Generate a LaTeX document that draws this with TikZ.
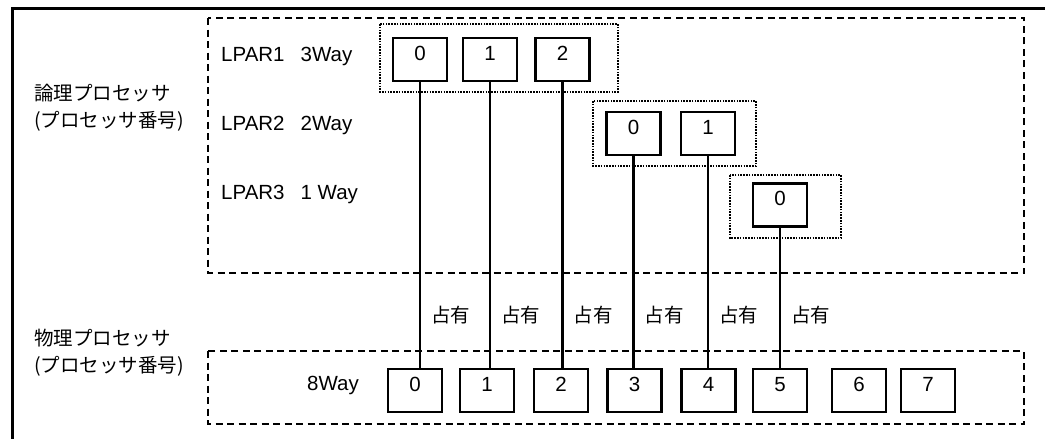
\documentclass[tikz,border=0pt]{standalone}
\usepackage{fontspec}
\setmainfont{Liberation Sans}
\newfontfamily\jp{Noto Sans CJK JP}
\begin{document}
\begin{tikzpicture}[x=1pt,y=-1pt,
  cell/.style={draw, line width=2.2pt, minimum width=54pt, inner sep=0pt,
    text height=22pt, text depth=21pt, font=\fontsize{20.5}{24}\selectfont},
  link/.style={line width=2.2pt},
  grp/.style={line width=2.2pt, dash pattern=on 1.6pt off 1.2pt},
  area/.style={line width=2pt, dash pattern=on 7pt off 4.5pt},
  lat/.style={inner sep=0pt, anchor=base west, font=\fontsize{20.5}{24}\selectfont},
  jpl/.style={inner sep=0pt, anchor=base west, align=left, font=\jp\fontsize{19.5}{27}\selectfont},
  occ/.style={inner sep=0pt, anchor=west, font=\jp\fontsize{19.5}{24}\selectfont}]
\useasboundingbox (0,0) rectangle (1045,439);
% outer frame
\draw[line width=3pt] (12,445) -- (12,8) -- (1052,8);
% dashed areas
\draw[area] (208,18) rectangle (1024,273);
\draw[area] (208,351) rectangle (1024,424);
% dotted groups
\draw[grp] (380,24) rectangle (618,92);
\draw[grp] (593,101) rectangle (756,166);
\draw[grp] (730,175) rectangle (841,238);
% left labels
\node[jpl] (lt) at (34,127) {論理プロセッサ\\(プロセッサ番号)};
\node[jpl] (pt) at (34,372) {物理プロセッサ\\(プロセッサ番号)};
% LPAR labels
\node[lat] (lp1) at (221,61) {LPAR1\hspace{16pt}3Way};
\node[lat] (lp2) at (221,130) {LPAR2\hspace{16pt}2Way};
\node[lat] (lp3) at (221,199) {LPAR3\hspace{16pt}1 Way};
\node[lat] (w8) at (307,390) {8Way};
% logical processors
\node[cell] (a0) at (420,59.5) {0};
\node[cell] (a1) at (490,59.5) {1};
\node[cell] (a2) at (562.5,59.5) {2};
\node[cell] (b0) at (633.5,133.5) {0};
\node[cell] (b1) at (708,133.5) {1};
\node[cell] (c0) at (780,205) {0};
% physical processors
\node[cell] (p0) at (415,390.5) {0};
\node[cell] (p1) at (487,390.5) {1};
\node[cell] (p2) at (561,390.5) {2};
\node[cell] (p3) at (634.5,390.5) {3};
\node[cell] (p4) at (708.5,390.5) {4};
\node[cell] (p5) at (780,390.5) {5};
\node[cell] (p6) at (859,390.5) {6};
\node[cell] (p7) at (928,390.5) {7};
% connectors
\coordinate (oy) at (0,315);
\foreach \u/\p/\n in {a0/p0/o1, a1/p1/o2, a2/p2/o3, b0/p3/o4, b1/p4/o5, c0/p5/o6}{
  \draw[link] (\u.south) -- (\u.south |- \p.north);
  \node[occ] (\n) at ([xshift=11pt]\u.south |- oy) {占有};
}
\end{tikzpicture}
\end{document}
